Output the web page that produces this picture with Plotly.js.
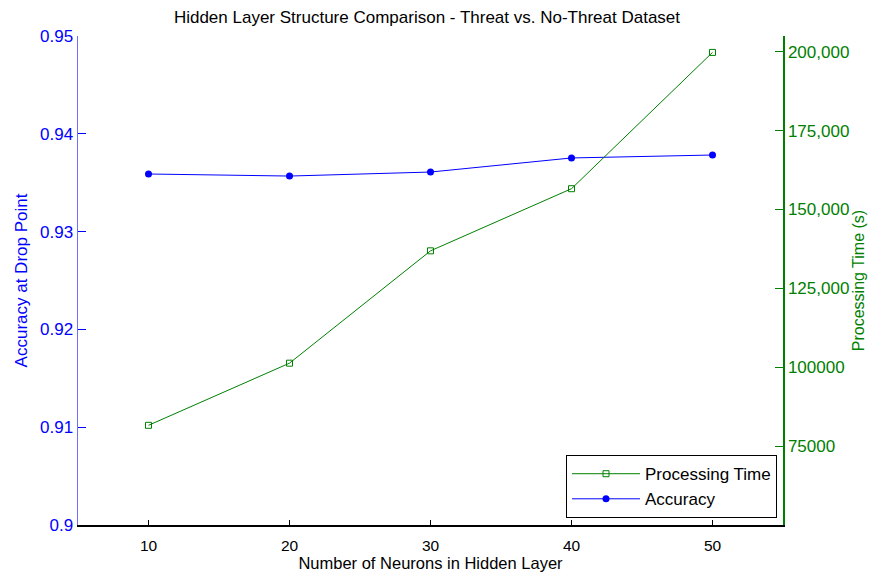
<!DOCTYPE html>
<html>
<head>
<meta charset="utf-8">
<script src="https://cdn.plot.ly/plotly-3.0.1.min.js"></script>
<style>html,body{margin:0;padding:0;background:#fff;}#chart{width:871px;height:573px;}</style>
</head>
<body>
<div id="chart"></div>
<script>
const neurons = [10, 20, 30, 40, 50];
const accuracy = [0.93589, 0.93568, 0.93609, 0.93753, 0.93783];
const processingTime = [81600, 101300, 136900, 156600, 199800];
const xTicks = [10, 20, 30, 40, 50];
const leftTicks = [0.9, 0.91, 0.92, 0.93, 0.94, 0.95];
const leftTickText = ["0.9", "0.91", "0.92", "0.93", "0.94", "0.95"];
const rightTicks = [75000, 100000, 125000, 150000, 175000, 200000];
const rightTickText = ["75000", "100000", "125,000", "150,000", "175,000", "200,000"];

const FONT = "Liberation Sans, Arial, sans-serif";

const traces = [
  {
    x: neurons, y: processingTime, name: "Processing Time", yaxis: "y2",
    type: "scatter", mode: "lines+markers",
    line: {color: "#008000", width: 1},
    marker: {symbol: "square-open", size: 6, color: "#008000", line: {width: 1}}
  },
  {
    x: neurons, y: accuracy, name: "Accuracy", yaxis: "y",
    type: "scatter", mode: "lines+markers",
    line: {color: "#0000ff", width: 1},
    marker: {symbol: "circle", size: 7, color: "#0000ff"}
  }
];

const layout = {
  width: 871, height: 573,
  margin: {l: 78, r: 88, t: 36, b: 48, pad: 0},
  paper_bgcolor: "#fff", plot_bgcolor: "#fff",
  font: {family: FONT, size: 16, color: "#000"},
  showlegend: true,
  title: {
    text: "Hidden Layer Structure Comparison - Threat vs. No-Threat Dataset",
    font: {family: FONT, size: 17, color: "#000"},
    x: 0.495, xanchor: "center", xref: "paper", y: 0.97, yanchor: "middle"
  },
  xaxis: {
    range: [5, 55], tickvals: xTicks, ticktext: xTicks.map(String),
    ticks: "inside", ticklen: 5, tickcolor: "#000", tickwidth: 1,
    showline: true, linecolor: "#000", linewidth: 1.5,
    showgrid: false, zeroline: false, mirror: false,
    ticklabelstandoff: 6,
    tickfont: {family: FONT, size: 15.5, color: "#000"},
    title: {text: "Number of Neurons in Hidden Layer", font: {family: FONT, size: 16.5, color: "#000"}, standoff: 3}
  },
  yaxis: {
    range: [0.9, 0.95], tickvals: leftTicks, ticktext: leftTickText,
    ticks: "inside", ticklen: 8, tickcolor: "#0000ff", tickwidth: 1,
    showline: true, linecolor: "#7070ff", linewidth: 1.5,
    showgrid: false, zeroline: false,
    tickfont: {family: FONT, size: 17, color: "#0000ff"},
    title: {text: "Accuracy at Drop Point", font: {family: FONT, size: 17, color: "#0000ff"}, standoff: 8}
  },
  yaxis2: {
    range: [50000, 205000], tickvals: rightTicks, ticktext: rightTickText,
    overlaying: "y", side: "right",
    ticks: "inside", ticklen: 8, tickcolor: "#008000", tickwidth: 1,
    showline: true, linecolor: "#008000", linewidth: 1.5,
    showgrid: false, zeroline: false,
    tickfont: {family: FONT, size: 17, color: "#008000"},
    title: {text: "Processing Time (s)", font: {family: FONT, size: 16, color: "#008000"}, standoff: 4}
  },
  legend: {
    x: 0.9915, xanchor: "right", y: 0.014, yanchor: "bottom",
    bgcolor: "#fff", bordercolor: "#000", borderwidth: 1,
    font: {family: FONT, size: 17, color: "#000"},
    traceorder: "normal", tracegroupgap: 0, itemwidth: 68
  }
};

Plotly.newPlot("chart", traces, layout, {displayModeBar: false, staticPlot: true});
</script>
</body>
</html>
